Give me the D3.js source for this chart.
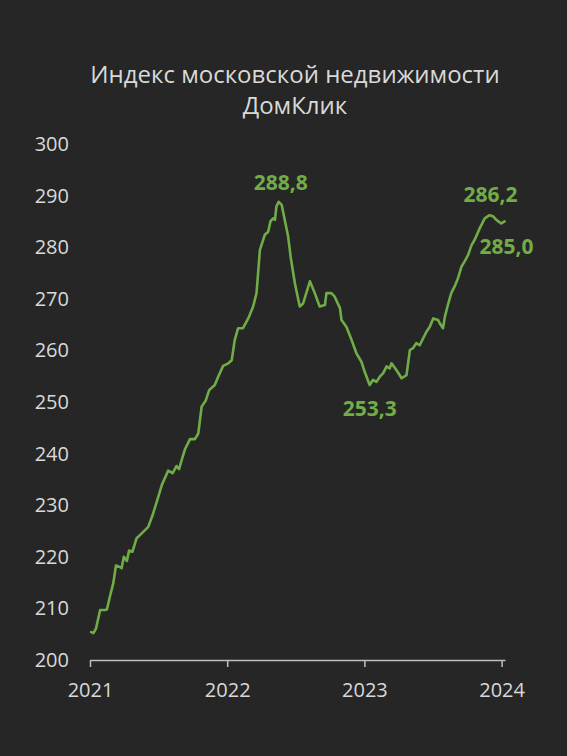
<!DOCTYPE html>
<html><head><meta charset="utf-8">
<script src="https://cdn.jsdelivr.net/npm/d3@7"></script>
<style>html,body{margin:0;padding:0;background:#262626;}svg{display:block;}</style>
</head><body>
<svg id="chart" width="567" height="756"></svg>
<script>
const dates = ["2021-01-04","2021-01-10","2021-01-17","2021-01-28","2021-02-10","2021-02-15","2021-02-23","2021-03-04","2021-03-11","2021-03-22","2021-03-26","2021-04-01","2021-04-09","2021-04-15","2021-04-24","2021-05-05","2021-05-18","2021-06-05","2021-06-18","2021-07-02","2021-07-11","2021-07-28","2021-08-09","2021-08-19","2021-08-26","2021-09-02","2021-09-11","2021-09-24","2021-10-07","2021-10-16","2021-10-25","2021-11-05","2021-11-14","2021-11-29","2021-12-08","2021-12-21","2022-01-04","2022-01-13","2022-01-21","2022-01-30","2022-02-12","2022-02-26","2022-03-11","2022-03-20","2022-03-29","2022-04-11","2022-04-20","2022-04-26","2022-05-03","2022-05-08","2022-05-12","2022-05-18","2022-05-26","2022-06-03","2022-06-12","2022-06-19","2022-06-30","2022-07-13","2022-07-22","2022-08-09","2022-08-22","2022-09-04","2022-09-18","2022-09-22","2022-10-05","2022-10-14","2022-10-28","2022-11-01","2022-11-14","2022-11-28","2022-12-11","2022-12-24","2023-01-02","2023-01-15","2023-01-24","2023-02-02","2023-02-11","2023-02-20","2023-03-01","2023-03-09","2023-03-14","2023-03-27","2023-04-10","2023-04-23","2023-05-02","2023-05-10","2023-05-19","2023-05-28","2023-06-06","2023-06-15","2023-06-24","2023-07-03","2023-07-16","2023-07-20","2023-07-29","2023-08-03","2023-08-11","2023-08-20","2023-08-29","2023-09-07","2023-09-16","2023-09-25","2023-10-04","2023-10-13","2023-10-21","2023-11-04","2023-11-17","2023-11-30","2023-12-09","2023-12-18","2023-12-31","2024-01-09"];
const values = [205.4,205.2,206.1,209.7,209.7,209.8,212.3,214.9,218.3,218.0,217.8,220.0,219.2,221.2,221.0,223.6,224.5,225.8,228.4,231.7,233.9,236.7,236.2,237.6,237.0,238.8,240.9,242.8,242.8,243.9,249.1,250.3,252.3,253.3,254.9,257.0,257.5,258.1,262.0,264.3,264.3,266.2,268.5,271.1,279.5,282.4,283.0,285.0,285.6,285.3,287.9,288.8,288.2,285.3,282.1,278.0,273.0,268.5,269.1,273.4,271.1,268.5,268.8,271.1,271.1,270.4,268.2,265.9,264.6,262.0,259.4,257.8,255.8,253.3,254.3,253.9,254.9,255.6,256.9,256.5,257.5,256.2,254.6,255.2,260.1,260.4,261.4,261.0,262.3,263.6,264.6,266.2,265.9,265.3,264.3,266.5,268.8,271.1,272.4,274.0,276.2,277.3,278.5,280.4,281.4,283.7,285.6,286.2,286.0,285.3,284.6,285.0];
const yTicks = [200,210,220,230,240,250,260,270,280,290,300];
const xTicks = ["2021-01-01","2022-01-01","2023-01-01","2024-01-01"];
const xTickLabels = ["2021","2022","2023","2024"];
const annotDates = ["2022-05-18","2023-01-15","2023-11-30","2024-01-09"];
const annotValues = [288.8,253.3,286.2,285.0];
const annotLabels = ["288,8","253,3","286,2","285,0"];
const title = ["Индекс московской недвижимости","ДомКлик"];

const parse = d3.timeParse("%Y-%m-%d");
const data = dates.map((d,i)=>({date:parse(d), v:values[i]}));
const svg = d3.select("#chart");
const font = "'Open Sans', sans-serif";
const textCol = "#d9d9d9";
const green = "#70ad47";

const x = d3.scaleTime().domain([parse("2021-01-01"), parse("2024-01-10")]).range([90, 505]);
const y = d3.scaleLinear().domain([200,300]).range([660,144]);

// title
svg.append("g").selectAll("text").data(title).join("text")
  .attr("x", 295).attr("y",(d,i)=>83+i*31)
  .attr("text-anchor","middle").attr("fill",textCol)
  .attr("font-family",font).attr("font-size",24).text(d=>d);

// y labels
svg.append("g").selectAll("text").data(yTicks).join("text")
  .attr("x",69).attr("y",d=>y(d)+7)
  .attr("text-anchor","end").attr("fill",textCol)
  .attr("font-family",font).attr("font-size",20).text(d=>d);

// x axis
const xAxis = d3.axisBottom(x).tickValues(xTicks.map(parse))
  .tickFormat((d,i)=>xTickLabels[i]).tickSize(7).tickSizeOuter(0);
const gx = svg.append("g").attr("transform","translate(0,660)").call(xAxis);
gx.select(".domain").attr("stroke","#bfbfbf").attr("stroke-width",1.5);
gx.selectAll(".tick line").attr("stroke","#bfbfbf").attr("stroke-width",1.5);
gx.selectAll(".tick text").attr("fill",textCol).attr("font-family",font)
  .attr("font-size",20).attr("dy","0").attr("y",37);

// line
svg.append("path").datum(data)
  .attr("fill","none").attr("stroke",green).attr("stroke-width",2.6)
  .attr("stroke-linejoin","round").attr("stroke-linecap","round")
  .attr("d", d3.line().x(d=>x(d.date)).y(d=>y(d.v)));

// annotations
const offs = [[2,-12],[0,31],[1,-13],[2,33]];
svg.append("g").selectAll("text").data(annotLabels).join("text")
  .attr("x",(d,i)=>x(parse(annotDates[i]))+offs[i][0])
  .attr("y",(d,i)=>y(annotValues[i])+offs[i][1])
  .attr("text-anchor","middle").attr("fill",green)
  .attr("font-family",font).attr("font-weight","bold").attr("font-size",21).text(d=>d);
</script>
</body></html>
